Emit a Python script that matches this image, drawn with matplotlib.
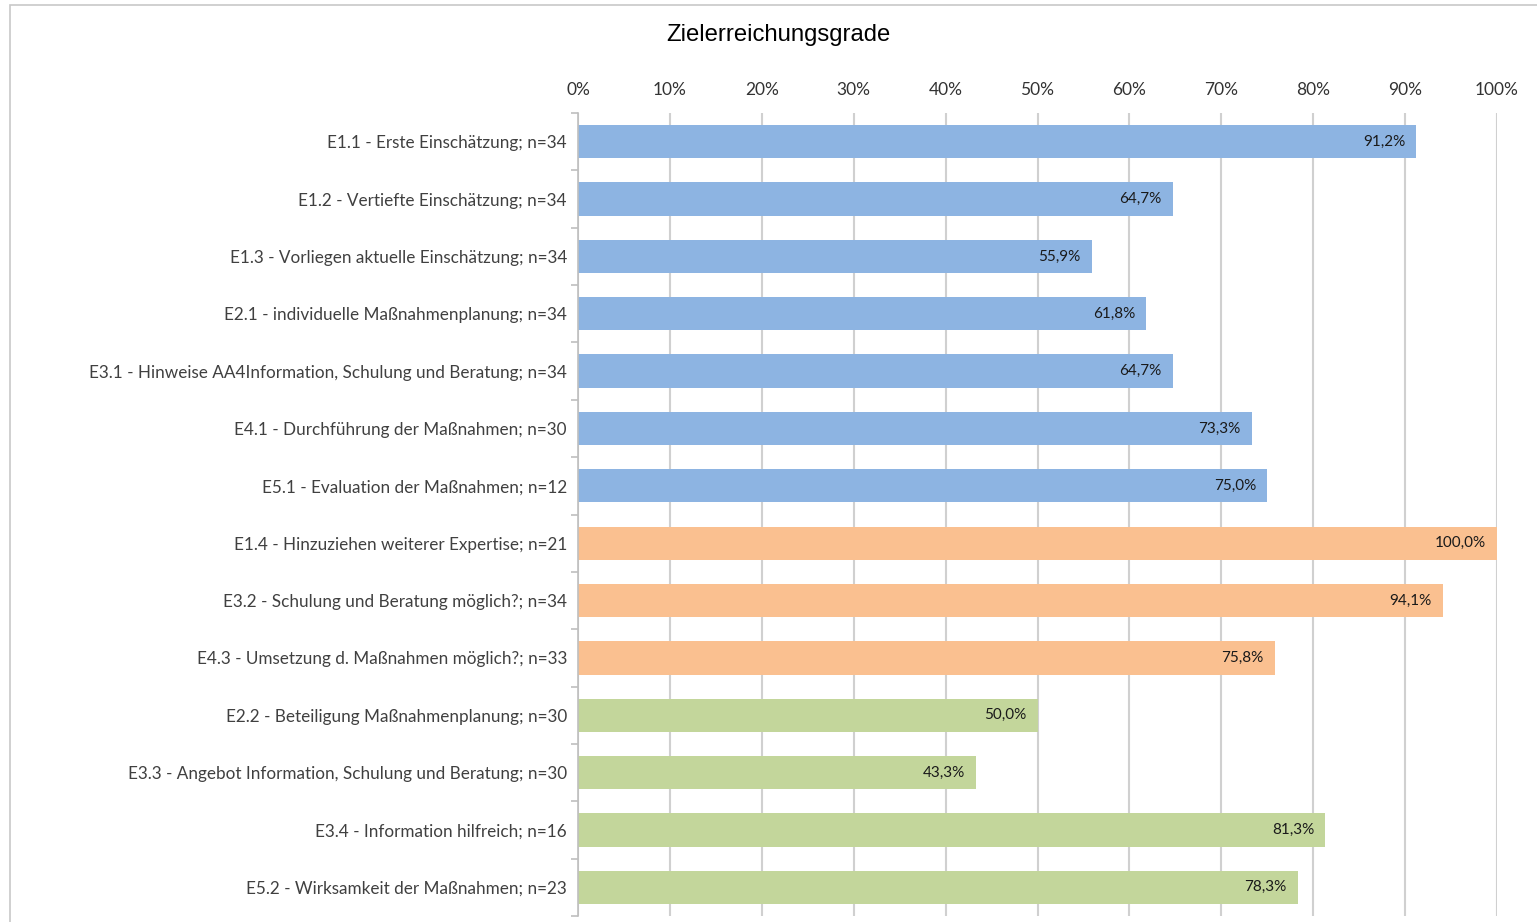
import matplotlib.pyplot as plt
from matplotlib.patches import Rectangle
import numpy as np

labels = [
    "E1.1 - Erste Einschätzung; n=34",
    "E1.2 - Vertiefte Einschätzung; n=34",
    "E1.3 - Vorliegen aktuelle Einschätzung; n=34",
    "E2.1 - individuelle Maßnahmenplanung; n=34",
    "E3.1 - Hinweise AA4Information, Schulung und Beratung; n=34",
    "E4.1 - Durchführung der Maßnahmen; n=30",
    "E5.1 - Evaluation der Maßnahmen; n=12",
    "E1.4 - Hinzuziehen weiterer Expertise; n=21",
    "E3.2 - Schulung und Beratung möglich?; n=34",
    "E4.3 - Umsetzung d. Maßnahmen möglich?; n=33",
    "E2.2 - Beteiligung Maßnahmenplanung; n=30",
    "E3.3 - Angebot Information, Schulung und Beratung; n=30",
    "E3.4 - Information hilfreich; n=16",
    "E5.2 - Wirksamkeit der Maßnahmen; n=23",
]
values = [91.2, 64.7, 55.9, 61.8, 64.7, 73.3, 75.0,
          100.0, 94.1, 75.8,
          50.0, 43.3, 81.3, 78.3]
groups = ["a"] * 7 + ["b"] * 3 + ["c"] * 4
group_colors = {"a": "#8DB4E2", "b": "#FAC090", "c": "#C3D69B"}

fig = plt.figure(figsize=(15.37, 9.22), dpi=100)
ax = fig.add_axes([578 / 1537, 1 - 916 / 922, (1497 - 578) / 1537, (916 - 113) / 922])

# outer chart frame
fig.patches.append(Rectangle((10 / 1537, -0.1), 1.2, 1 - 5 / 922 + 0.1,
                             transform=fig.transFigure, fill=False,
                             edgecolor="#C8C8C8", linewidth=1.2))

y = np.arange(len(labels))
colors = [group_colors[g] for g in groups]
ax.barh(y, values, height=0.58, color=colors, zorder=2)

for yi, v in zip(y, values):
    ax.text(v - 1.2, yi, f"{v:.1f}%".replace(".", ","), ha="right", va="center",
            fontsize=11, family="Lato", color="#1a1a1a", zorder=3)

ax.set_xlim(0, 100)
ax.set_ylim(len(labels) - 0.5, -0.5)
ax.set_xticks(np.arange(0, 101, 10))
ax.set_xticklabels([f"{t}%" for t in range(0, 101, 10)], family="Lato",
                   fontsize=12.5, color="#333333")
ax.xaxis.tick_top()
ax.tick_params(axis="x", length=0, pad=11)
ax.grid(axis="x", color="#D0D0D0", linewidth=1.5, zorder=0)

ax.set_yticks(y)
ax.set_yticklabels(labels, family="Lato", fontsize=12.3, color="#404040")
ax.tick_params(axis="y", which="major", length=0, pad=8)
ax.set_yticks(np.arange(-0.5, len(labels) + 0.5, 1), minor=True)
ax.tick_params(axis="y", which="minor", length=5, color="#BFBFBF", width=1.2)

for s in ["top", "right", "bottom"]:
    ax.spines[s].set_visible(False)
ax.spines["left"].set_color("#BFBFBF")
ax.spines["left"].set_linewidth(1.2)

fig.text(778 / 1537, 1 - 35 / 922, "Zielerreichungsgrade", ha="center", va="center",
         fontsize=17.2, family="Liberation Sans", color="#000000")

fig.savefig("out.png", dpi=100)
